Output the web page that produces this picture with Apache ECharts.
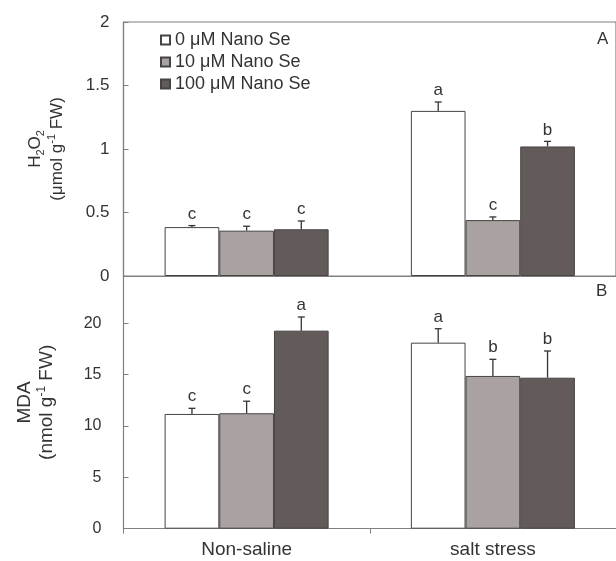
<!DOCTYPE html>
<html>
<head>
<meta charset="utf-8">
<script src="https://cdn.jsdelivr.net/npm/echarts@6/dist/echarts.min.js"></script>
<style>
  html, body { margin: 0; padding: 0; background: #fff; }
  #main { width: 616px; height: 561px; }
</style>
</head>
<body>
<div id="main"></div>
<script>
// data
var categories = ['Non-saline', 'salt stress'];
var seriesNames = ['0 μM Nano Se', '10 μM Nano Se', '100 μM Nano Se'];
var barColors = ['#ffffff', '#aaa2a0', '#635b59'];

// H2O2 panel (A), one row per Nano Se level
var h2o2 = [[0.385, 1.30], [0.357, 0.44], [0.368, 1.02]];
var h2o2Err = [[0.012, 0.07], [0.035, 0.025], [0.065, 0.04]];
var h2o2Letters = [['c', 'a'], ['c', 'c'], ['c', 'b']];
var h2o2Ticks = [0, 0.5, 1, 1.5, 2];

// MDA panel (B)
var mda = [[11.17, 18.11], [11.24, 14.87], [19.28, 14.7]];
var mdaErr = [[0.55, 1.36], [1.17, 1.62], [1.33, 2.6]];
var mdaLetters = [['c', 'a'], ['c', 'b'], ['a', 'b']];
var mdaTicks = [0, 5, 10, 15, 20];

var txt = '#333';
var axisGray = '#808080';
var font = 'Liberation Sans, Arial, sans-serif';
var catGap = 0.334;

var chart = echarts.init(document.getElementById('main'));

function errRender(level, letters) {
  return function (params, api) {
    var v = api.value(1), e = api.value(2);
    var base = api.coord([api.value(0), v]);
    var top = api.coord([api.value(0), v + e]);
    var band = api.size([1, 0])[0];
    var bw = band * (1 - catGap) / 3;
    var x = base[0] + (level - 1) * bw;
    var st = { stroke: '#333', lineWidth: 1.3 };
    return {
      type: 'group',
      children: [
        { type: 'line', shape: { x1: x, y1: base[1], x2: x, y2: top[1] }, style: st },
        { type: 'line', shape: { x1: x - 3.5, y1: top[1], x2: x + 3.5, y2: top[1] }, style: st },
        {
          type: 'text',
          style: {
            text: letters[level][params.dataIndex],
            x: x, y: top[1] - 3,
            align: 'center', verticalAlign: 'bottom',
            fill: txt, font: '17px ' + font
          }
        }
      ]
    };
  };
}

var series = [];
[[h2o2, h2o2Err, h2o2Letters], [mda, mdaErr, mdaLetters]].forEach(function (panel, p) {
  for (var i = 0; i < 3; i++) {
    series.push({
      type: 'bar',
      name: seriesNames[i],
      xAxisIndex: p,
      yAxisIndex: p,
      data: panel[0][i],
      barGap: '0%',
      barCategoryGap: (catGap * 100) + '%',
      itemStyle: { color: barColors[i], borderColor: '#444', borderWidth: 1 }
    });
  }
  for (var i = 0; i < 3; i++) {
    series.push({
      type: 'custom',
      xAxisIndex: p,
      yAxisIndex: p,
      z: 5,
      renderItem: errRender(i, panel[2]),
      encode: { x: 0, y: 1 },
      data: panel[0][i].map(function (v, j) { return [j, v, panel[1][i][j]]; })
    });
  }
});

var option = {
  animation: false,
  backgroundColor: '#fff',
  textStyle: { fontFamily: font },
  grid: [
    { left: 123.5, top: 22, width: 495, height: 254, show: true, borderColor: axisGray, borderWidth: 1.2 },
    { left: 123.5, top: 276, width: 495, height: 252.7 }
  ],
  legend: {
    data: seriesNames,
    orient: 'vertical',
    left: 155,
    top: 26,
    itemWidth: 9,
    itemHeight: 9,
    itemGap: 4,
    icon: 'rect',
    textStyle: { color: txt, fontSize: 18, lineHeight: 18, fontFamily: font }
  },
  xAxis: [
    {
      type: 'category', gridIndex: 0, data: categories,
      axisLine: { lineStyle: { color: axisGray, width: 1.2 } },
      axisTick: { show: false },
      axisLabel: { show: false }
    },
    {
      type: 'category', gridIndex: 1, data: categories,
      axisLine: { lineStyle: { color: axisGray, width: 1.2 } },
      axisTick: { show: true, length: 5, lineStyle: { color: axisGray } },
      axisLabel: { color: txt, fontSize: 19, margin: 12 }
    }
  ],
  yAxis: [
    {
      type: 'value', gridIndex: 0,
      min: h2o2Ticks[0], max: h2o2Ticks[h2o2Ticks.length - 1], interval: 0.5,
      axisLine: { show: true, lineStyle: { color: axisGray, width: 1.2 } },
      axisTick: { show: true, inside: true, length: 5, lineStyle: { color: axisGray } },
      splitLine: { show: false },
      axisLabel: { color: txt, fontSize: 17, margin: 14 },
      name: '{a|H}{s|2}{a|O}{s|2}\n{a|(μmol g}{p|-1}{a| FW)}',
      nameLocation: 'middle',
      nameRotate: 90,
      nameGap: 55,
      nameTextStyle: {
        color: txt,
        rich: {
          a: { fontSize: 17, lineHeight: 22, color: txt, fontFamily: font },
          s: { fontSize: 11, lineHeight: 12, verticalAlign: 'bottom', color: txt, fontFamily: font },
          p: { fontSize: 11, lineHeight: 12, verticalAlign: 'top', color: txt, fontFamily: font }
        }
      }
    },
    {
      type: 'value', gridIndex: 1,
      min: mdaTicks[0], max: 24.6, interval: 5,
      axisLine: { show: true, lineStyle: { color: axisGray, width: 1.2 } },
      axisTick: { show: true, inside: true, length: 5, lineStyle: { color: axisGray } },
      splitLine: { show: false },
      axisLabel: {
        color: txt, fontSize: 16, margin: 22,
        showMaxLabel: false,
        formatter: function (v) { return mdaTicks.indexOf(v) >= 0 ? String(v) : ''; }
      },
      name: '{a|MDA}\n{a|(nmol g}{p|-1}{a| FW)}',
      nameLocation: 'middle',
      nameRotate: 90,
      nameGap: 66,
      nameTextStyle: {
        color: txt,
        rich: {
          a: { fontSize: 19, lineHeight: 22, color: txt, fontFamily: font },
          p: { fontSize: 12, lineHeight: 12, verticalAlign: 'top', color: txt, fontFamily: font }
        }
      }
    }
  ],
  graphic: [
    { type: 'text', left: 597, top: 31, style: { text: 'A', fill: txt, font: '17px ' + font } },
    { type: 'text', left: 596, top: 283, style: { text: 'B', fill: txt, font: '17px ' + font } }
  ],
  series: series
};

chart.setOption(option);
</script>
</body>
</html>
